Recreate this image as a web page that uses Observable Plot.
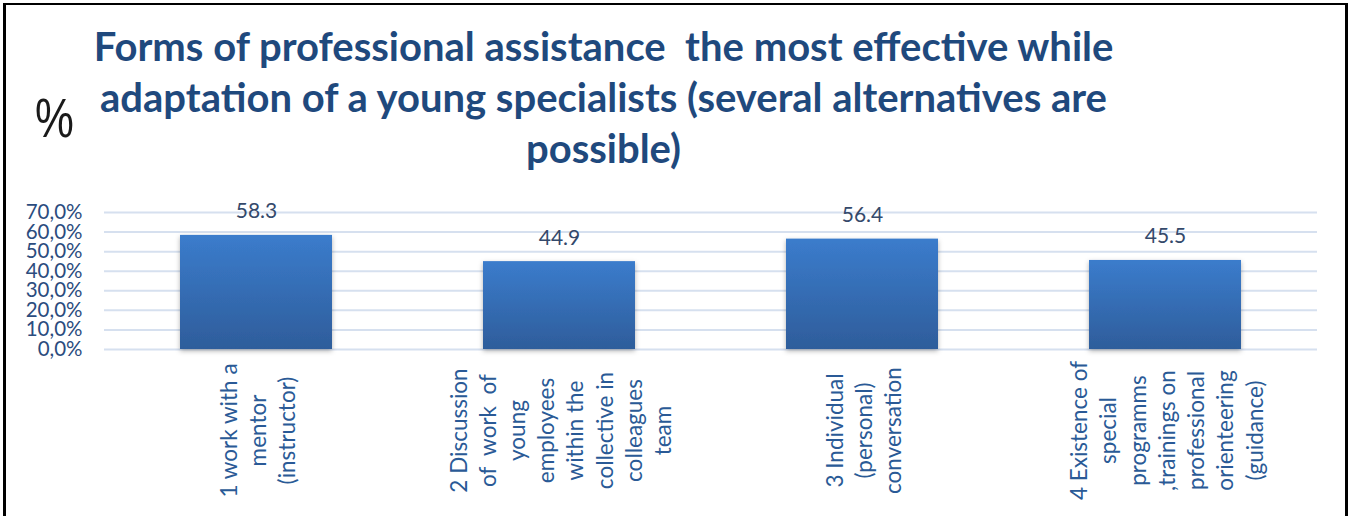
<!DOCTYPE html>
<html>
<head>
<meta charset="utf-8">
<script src="https://cdn.jsdelivr.net/npm/d3@7"></script>
<script src="https://cdn.jsdelivr.net/npm/@observablehq/plot@0.6"></script>
<style>
html, body { margin: 0; padding: 0; background: #fff; }
#wrap { position: relative; width: 1351px; height: 516px; overflow: hidden; font-family: Lato, sans-serif; background: #fff; }
#frame { position: absolute; left: 3px; top: 3px; width: 1339px; height: 540px; border-style: solid; border-color: #000; border-width: 2px 3px 0 3px; }
#title { position: absolute; left: 90px; top: 21px; width: 1027px; text-align: center; font-family: Lato, sans-serif; font-weight: 700; font-size: 40px; line-height: 51px; color: #1f497d; white-space: nowrap; }
#pct { position: absolute; left: 35px; top: 90px; font-family: "Liberation Sans", Arial, sans-serif; font-size: 56px; line-height: 56px; color: #1a1a1a; transform: scaleX(0.78); transform-origin: left top; }
#chart { position: absolute; left: 0; top: 190px; }
</style>
</head>
<body>
<div id="wrap">
  <div id="frame"></div>
  <div id="title">Forms of professional assistance&nbsp; the most effective while<br>adaptation of a young specialists (several alternatives are<br>possible)</div>
  <div id="pct">%</div>
  <div id="chart"></div>
</div>
<script>
const categories = ["c1", "c2", "c3", "c4"];
const labels = [
  "1 work with a\nmentor\n(instructor)",
  "2 Discussion\nof  work  of\nyoung\nemployees\nwithin the\ncollective in\ncolleagues\nteam",
  "3 Individual\n(personal)\nconversation",
  "4 Existence of\nspecial\nprogramms\n,trainings on\nprofessional\norienteering\n(guidance)"
];
const values = [58.3, 44.9, 56.4, 45.5];
const yTicks = [0, 10, 20, 30, 40, 50, 60, 70];

const data = categories.map((c, i) => ({cat: c, label: labels[i], value: values[i]}));

const chart = Plot.plot({
  width: 1351,
  height: 326,
  marginTop: 22,
  marginBottom: 167,
  marginLeft: 104,
  marginRight: 34,
  style: {fontFamily: "Lato, sans-serif", background: "transparent", overflow: "visible"},
  x: {domain: categories, paddingInner: 0.5, paddingOuter: 0.25, axis: null},
  y: {domain: [0, 70], axis: null, label: null},
  marks: [
    Plot.gridY(yTicks, {stroke: "#d6e0ef", strokeWidth: 2, strokeOpacity: 1}),
    Plot.axisY(yTicks, {tickSize: 0, tickPadding: 22, fontSize: 20.5, fill: "#2b4c7e", label: null,
      tickFormat: d => d.toFixed(1).replace(".", ",") + "%"}),
    Plot.barY(data, {x: "cat", y: "value", fill: "url(#barGrad)"}),
    Plot.text(data, {x: "cat", y: "value", text: d => d.value.toFixed(1), dy: -17, lineAnchor: "bottom",
      fontSize: 21, fill: "#34496b"}),
    Plot.text(data, {x: "cat", text: "label", frameAnchor: "bottom", rotate: -90, textAnchor: "middle",
      lineAnchor: "middle", lineHeight: 1.3, fontSize: 22.5, fill: "#2a5a96", dy: 81})
  ]
});

const ns = "http://www.w3.org/2000/svg";
const defs = document.createElementNS(ns, "defs");
defs.innerHTML = `<linearGradient id="barGrad" x1="0" y1="0" x2="0" y2="1">
  <stop offset="0" stop-color="#3b7ccc"/><stop offset="1" stop-color="#2e5d9b"/></linearGradient>
  <filter id="barShadow" x="-10%" y="-10%" width="120%" height="125%">
  <feDropShadow dx="0" dy="2" stdDeviation="2.5" flood-color="#000" flood-opacity="0.3"/></filter>`;
chart.insertBefore(defs, chart.firstChild);
const barG = chart.querySelector('g[aria-label="bar"]');
if (barG) barG.setAttribute("filter", "url(#barShadow)");

document.getElementById("chart").appendChild(chart);
</script>
</body>
</html>
